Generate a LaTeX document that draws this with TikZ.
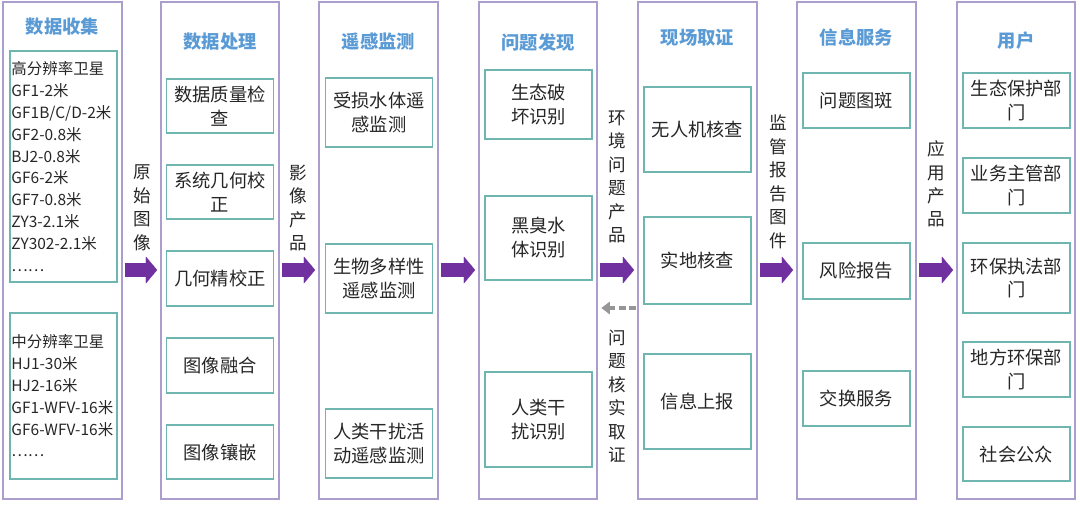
\documentclass[tikz,border=0pt]{standalone}
\usepackage{fontspec}
\setmainfont{Noto Sans CJK SC}
\usepackage{tikz}
\usepackage{xcolor}
\usetikzlibrary{positioning,fit,arrows.meta}

\definecolor{colline}{RGB}{172,158,204}
\definecolor{boxline}{RGB}{112,182,176}
\definecolor{headblue}{RGB}{91,155,213}
\definecolor{flowpurple}{RGB}{112,48,160}
\definecolor{backgray}{RGB}{150,150,150}
\definecolor{inktext}{RGB}{38,38,38}

\begin{document}
\begin{tikzpicture}[x=0.025cm, y=-0.025cm,
    column/.style  = {draw=colline, line width=1.1pt, inner sep=0pt},
    inbox/.style   = {draw=boxline, line width=1.1pt, inner sep=0pt, align=center, text=inktext,
                      minimum width=2.675cm, font=\fontsize{13pt}{17pt}\selectfont},
    satlist/.style = {inbox, align=left, text width=2.6cm, font=\fontsize{11pt}{15.5pt}\selectfont},
    head/.style    = {text=headblue, font=\fontsize{13pt}{16pt}\selectfont\bfseries},
    vlabel/.style  = {align=center, text=inktext, font=\fontsize{12.5pt}{16.7pt}\selectfont},
    flow/.style    = {draw=flowpurple, line width=9.3pt, -{Triangle[length=8pt,width=19pt,line width=0.1pt]},
                      shorten <=1.4pt, shorten >=2.2pt},
    back/.style    = {draw=backgray, line width=2.6pt, dash pattern=on 5pt off 2.5pt,
                      -{Triangle[length=6pt,width=9pt,line width=0.1pt]}, shorten <=0.7pt, shorten >=2.6pt}]
      %\draw [dotted] (0,0) grid[step=50] (1080,506);
      \useasboundingbox (0,0) rectangle (1080,506);
      % columns
      \node [column, fit={(3,2) (122,499)}]    (c1) {};
      \node [column, fit={(161,2) (279,499)}]  (c2) {};
      \node [column, fit={(319,2) (438,499)}]  (c3) {};
      \node [column, fit={(479,2) (597,499)}]  (c4) {};
      \node [column, fit={(638,2) (757,499)}]  (c5) {};
      \node [column, fit={(797,2) (916,499)}]  (c6) {};
      \node [column, fit={(957,2) (1075,499)}] (c7) {};
      % titles
      \node [head] (h1) at (  62.5, 27) {数据收集};
      \node [head] (h2) at ( 220.0, 42) {数据处理};
      \node [head] (h3) at ( 378.5, 42) {遥感监测};
      \node [head] (h4) at ( 538.0, 42) {问题发现};
      \node [head] (h5) at ( 697.5, 38) {现场取证};
      \node [head] (h6) at ( 856.5, 37) {信息服务};
      \node [head] (h7) at (1016.0, 41) {用户};
      % data collection
      \node [satlist, minimum height=5.775cm] (sat1) at (63.5, 166.5) {高分辨率卫星\\GF1-2米\\GF1B/C/D-2米\\GF2-0.8米\\BJ2-0.8米\\GF6-2米\\GF7-0.8米\\ZY3-2.1米\\ZY302-2.1米\\……};
      \node [satlist, minimum height=4.15cm]  (sat2) at (63.5, 396.0) {中分辨率卫星\\HJ1-30米\\HJ2-16米\\GF1-WFV-16米\\GF6-WFV-16米\\……};
      % processing
      \node [inbox, minimum height=1.35cm]  (p1) at (220, 106.0) {数据质量检\\查};
      \node [inbox, minimum height=1.35cm]  (p2) at (220, 192.0) {系统几何校\\正};
      \node [inbox, minimum height=1.375cm] (p3) at (220, 278.5) {几何精校正};
      \node [inbox, minimum height=1.375cm] (p4) at (220, 365.5) {图像融合};
      \node [inbox, minimum height=1.35cm]  (p5) at (220, 452.0) {图像镶嵌};
      % monitoring
      \node [inbox, minimum height=1.725cm] (m1) at (379, 112.5) {受损水体遥\\感监测};
      \node [inbox, minimum height=1.725cm] (m2) at (379, 278.5) {生物多样性\\遥感监测};
      \node [inbox, minimum height=1.725cm] (m3) at (379, 443.5) {人类干扰活\\动遥感监测};
      % discovery
      \node [inbox, minimum height=1.725cm] (d1) at (538.5, 104.5) {生态破\\坏识别};
      \node [inbox, minimum height=2.1cm]   (d2) at (538.5, 238.0) {黑臭水\\体识别};
      \node [inbox, minimum height=2.375cm] (d3) at (538.5, 419.5) {人类干\\扰识别};
      % field check
      \node [inbox, minimum height=2.125cm] (f1) at (697.5, 129.5) {无人机核查};
      \node [inbox, minimum height=2.175cm] (f2) at (697.5, 260.5) {实地核查};
      \node [inbox, minimum height=2.375cm] (f3) at (697.5, 401.5) {信息上报};
      % services
      \node [inbox, minimum height=1.375cm] (s1) at (856.5, 100.5) {问题图斑};
      \node [inbox, minimum height=1.4cm]   (s2) at (856.5, 271.0) {风险报告};
      \node [inbox, minimum height=1.375cm] (s3) at (856.5, 398.5) {交换服务};
      % users
      \node [inbox, minimum height=1.375cm] (u1) at (1016.5, 100.5) {生态保护部\\门};
      \node [inbox, minimum height=1.375cm] (u2) at (1016.5, 185.5) {业务主管部\\门};
      \node [inbox, minimum height=1.75cm]  (u3) at (1016.5, 278.0) {环保执法部\\门};
      \node [inbox, minimum height=1.375cm] (u4) at (1016.5, 369.5) {地方环保部\\门};
      \node [inbox, minimum height=1.35cm]  (u5) at (1016.5, 454.0) {社会公众};
      % flow labels
      \node [vlabel] (t12) at (142, 208) {原\\始\\图\\像};
      \node [vlabel] (t23) at (298, 208) {影\\像\\产\\品};
      \node [vlabel] (t45) at (617, 177) {环\\境\\问\\题\\产\\品};
      \node [vlabel] (t54) at (617, 396) {问\\题\\核\\实\\取\\证};
      \node [vlabel] (t56) at (778, 182) {监\\管\\报\\告\\图\\件};
      \node [vlabel] (t67) at (936, 184) {应\\用\\产\\品};
      % arrows
      \coordinate (flowline) at (0,270);
      \coordinate (backline) at (0,308);
      \draw [flow] (c1.east |- flowline) -- (c2.west |- flowline);
      \draw [flow] (c2.east |- flowline) -- (c3.west |- flowline);
      \draw [flow] (c3.east |- flowline) -- (c4.west |- flowline);
      \draw [flow] (c4.east |- flowline) -- (c5.west |- flowline);
      \draw [flow] (c5.east |- flowline) -- (c6.west |- flowline);
      \draw [flow] (c6.east |- flowline) -- (c7.west |- flowline);
      \draw [back] (c5.west |- backline) -- (c4.east |- backline);
\end{tikzpicture}
\end{document}
